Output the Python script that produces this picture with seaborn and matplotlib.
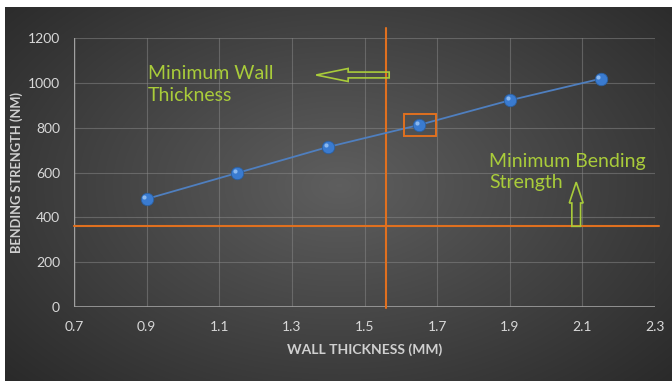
import numpy as np
import pandas as pd
import matplotlib
matplotlib.use("Agg")
import matplotlib.pyplot as plt
from matplotlib.patches import Rectangle, Polygon
import seaborn as sns

# ---- data ----
wall_thickness = [0.9, 1.15, 1.4, 1.65, 1.9, 2.15]
bending_strength = [482, 598, 714, 812, 922, 1018]
min_wall = 1.56
min_bending = 360
x_ticks = [0.7, 0.9, 1.1, 1.3, 1.5, 1.7, 1.9, 2.1, 2.3]
y_ticks = [0, 200, 400, 600, 800, 1000, 1200]
x_label = "WALL THICKNESS (MM)"
y_label = "BENDING STRENGTH (NM)"
note_wall = "Minimum Wall\nThickness"
note_bend = "Minimum Bending\nStrength"

df = pd.DataFrame({"x": wall_thickness, "y": bending_strength})

sns.set_theme(style="dark")
plt.rcParams["font.family"] = ["Lato", "DejaVu Sans"]

W, H = 672, 381
fig = plt.figure(figsize=(W / 100, H / 100), dpi=100)
fig.patch.set_facecolor("white")

# background gradient panel
bg = fig.add_axes([5 / W, 0, 1 - 5 / W, 1 - 7 / H])
bg.set_axis_off()
yy, xx = np.mgrid[0:200, 0:350]
cx, cy = 175, 95
r = np.sqrt(((xx - cx) / 230.0) ** 2 + ((yy - cy) / 150.0) ** 2)
val = np.clip(0.37 - 0.20 * r, 0.14, 0.37)
img = np.dstack([val, val, val])
bg.imshow(img, aspect="auto", extent=[0, 1, 0, 1], interpolation="bilinear")
bg.set_xlim(0, 1)
bg.set_ylim(0, 1)

left, right = 74 / W, 655 / W
bottom, top = 1 - 307 / H, 1 - 38 / H
ax = fig.add_axes([left, bottom, right - left, top - bottom])
ax.set_facecolor("none")

sns.lineplot(data=df, x="x", y="y", ax=ax, color="#4f7fbf", lw=1.3,
             marker="o", markersize=9, markerfacecolor="#3a7bd0",
             markeredgecolor="#2a5e9e", markeredgewidth=0.6, zorder=5)
# highlight on spheres
ax.scatter(df["x"] - 0.006, df["y"] + 9, s=9, color="#8ab8ef", zorder=6, lw=0)

ax.set_xlim(0.7, 2.3)
ax.set_ylim(0, 1200)
ax.set_xticks(x_ticks)
ax.set_yticks(y_ticks)
ax.set_xticklabels([f"{v:.1f}" for v in x_ticks])
ax.grid(True, color="#8a8a8a", lw=0.8, alpha=0.5)
for s in ax.spines.values():
    s.set_visible(False)
ax.axhline(0, color="#a0a0a0", lw=1.2, zorder=2)
ax.axvline(0.7, color="#a0a0a0", lw=1.0, zorder=2)
ax.tick_params(colors="#d8d8d8", labelsize=10, length=0, pad=10)
ax.set_xlabel(x_label, color="#d0d0d0", fontsize=10, fontweight="bold")
ax.set_ylabel(y_label, color="#d0d0d0", fontsize=9.3, fontweight="bold")
ax.xaxis.set_label_coords(0.5, -0.135)
ax.yaxis.set_label_coords(-0.087, 0.5)

# reference lines
ax.plot([min_wall, min_wall], [-5, 1245], color="#e0701f", lw=1.5,
        clip_on=False, zorder=4)
ax.plot([0.7, 2.31], [min_bending, min_bending], color="#e0701f", lw=1.5,
        clip_on=False, zorder=4)

# highlight box around point
ax.add_patch(Rectangle((1.61, 763), 0.086, 98, fill=False,
                       edgecolor="#e0701f", lw=1.4, zorder=7))

green = "#a9cc3a"
ax.text(0.903, 1078, note_wall, color=green, fontsize=14, va="top",
        ha="left", linespacing=1.3)
ax.text(1.843, 688, note_bend, color=green, fontsize=14, va="top",
        ha="left", linespacing=1.3)

# hollow left arrow
larrow = [(1.568, 1048), (1.455, 1048), (1.455, 1064), (1.367, 1035),
          (1.455, 1006), (1.455, 1022), (1.568, 1022)]
ax.add_patch(Polygon(larrow, closed=True, fill=False, edgecolor=green,
                     lw=1.2, zorder=8))
# hollow up arrow
uarrow = [(2.071, min_bending), (2.071, 464), (2.064, 464), (2.083, 557),
          (2.102, 464), (2.095, 464), (2.095, min_bending)]
ax.add_patch(Polygon(uarrow, closed=True, fill=False, edgecolor=green,
                     lw=1.2, zorder=8))

fig.savefig("out.png", dpi=100, facecolor=fig.get_facecolor())
